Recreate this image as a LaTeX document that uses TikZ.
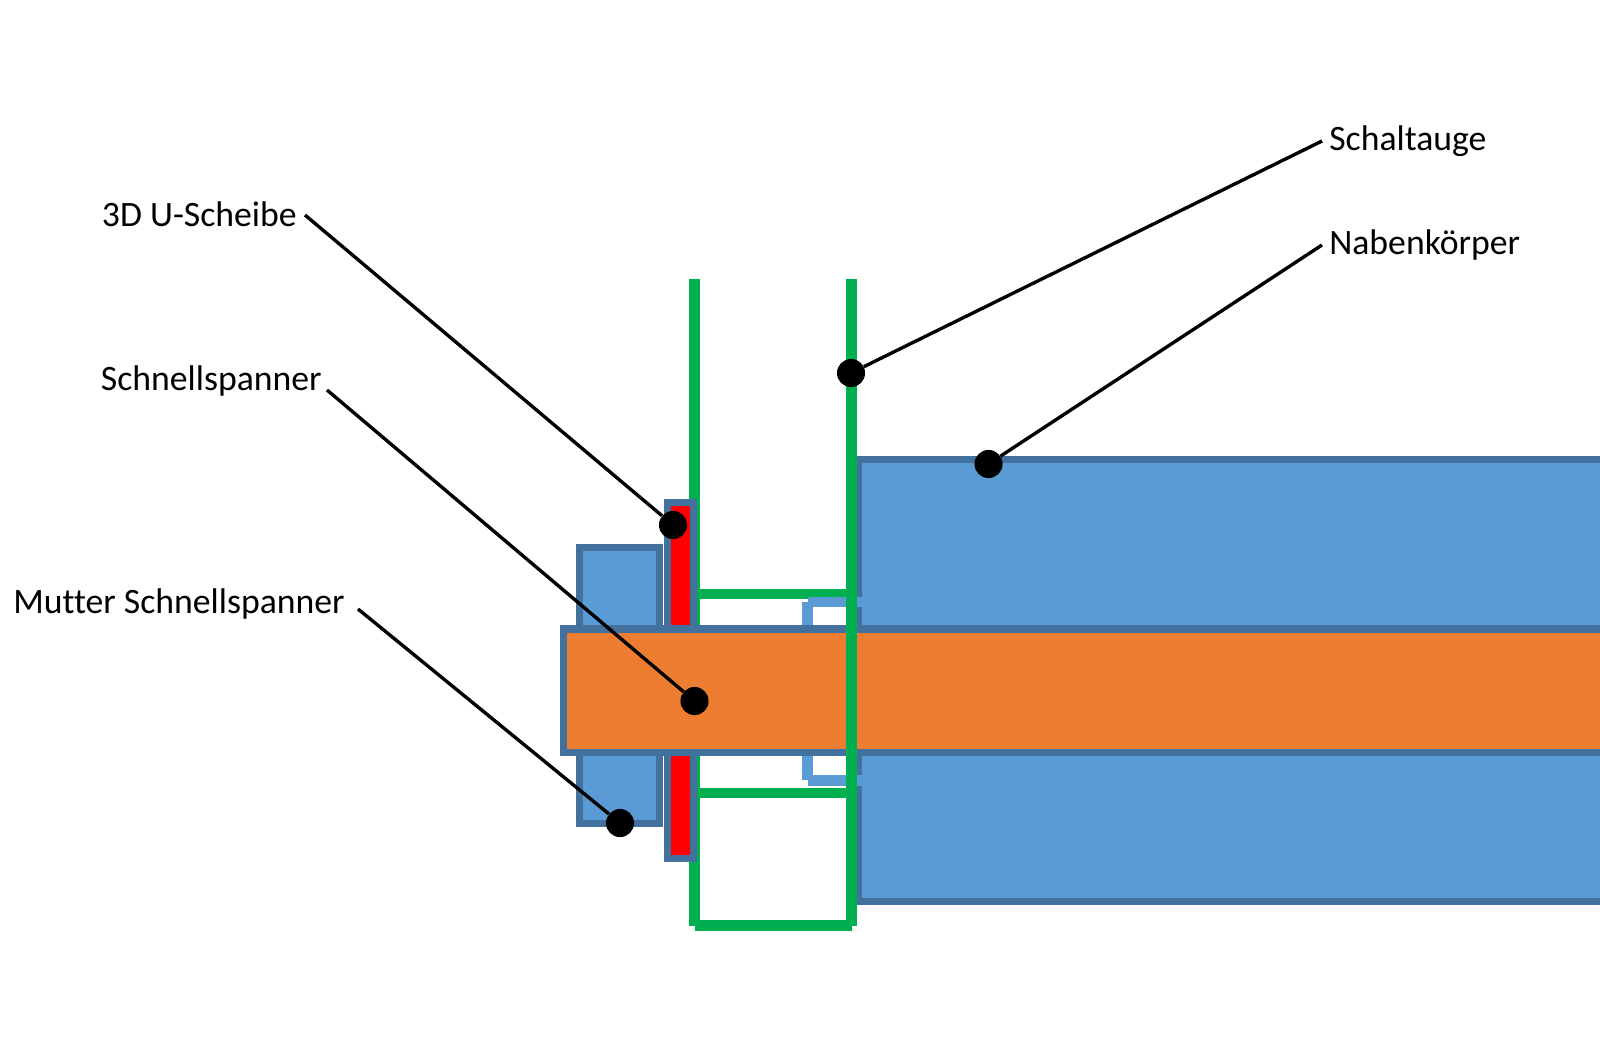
\documentclass[tikz,border=0pt]{standalone}
\usepackage{fontspec}
\setmainfont{Carlito}[Ligatures=NoCommon]
\definecolor{partblue}{HTML}{5B9BD5}
\definecolor{partedge}{HTML}{41719C}
\definecolor{rodorange}{HTML}{ED7D31}
\definecolor{framegreen}{HTML}{00B050}
\definecolor{washerred}{HTML}{FF0000}
\tikzset{
 part/.style={draw=partedge,line width=5pt},
 frameline/.style={framegreen,line width=7.5pt},
 spacerline/.style={partblue,line width=7.5pt},
 partdot/.style={circle,fill=black,minimum size=20pt,inner sep=0pt},
 partlabel/.style={font=\fontsize{25.4pt}{30pt}\selectfont,inner sep=0pt},
}
\begin{document}
\begin{tikzpicture}[x=.25mm,y=-.25mm]
 \useasboundingbox(0,0)rectangle(1600,1058);
 % hub body
 \fill[partblue](858,459.5)rectangle(1600,901.5);
 \draw[part](1600,459.5)--(858,459.5)--(858,901.5)--(1600,901.5);
 % frame
 \draw[frameline](694.5,279)--(694.5,926);
 \draw[frameline](851.5,279)--(851.5,926);
 \draw[frameline](694.5,594)--(851.5,594);
 \draw[frameline](694.5,793)--(851.5,793);
 \draw[frameline](694.5,925.7)--(851.5,925.7);
 % spacer
 \draw[spacerline](807.5,602)--(807.5,629);
 \draw[spacerline](807.5,752)--(807.5,780);
 \draw[spacerline](808,602)--(862,602);
 \draw[spacerline](808,780.5)--(862,780.5);
 \draw[frameline](851.5,590)--(851.5,800);
 % nut, washer
 \draw[part,fill=partblue](579.5,547.5)rectangle(659.5,823);
 \draw[part,fill=washerred](667.5,502.5)rectangle(693.5,858.5);
 % axle
 \fill[rodorange](563.5,629)rectangle(1600,752.5);
 \draw[part](1600,629)--(563.5,629)--(563.5,752.5)--(1600,752.5);
 \draw[frameline](851.5,625)--(851.5,756);
 % labels
 \foreach \id/\lx/\ly/\side/\dx/\dy/\ex/\ey/\txt in {
  schalt/1329/150.3/base west/851/373/1322/141/Schaltauge,
  nabe/1329/254.3/base west/988.5/464/1322/245/Nabenkörper,
  scheibe/297/226/base east/673/525/305/215/3D U-Scheibe,
  spanner/322/390/base east/694.5/701/327/390/Schnellspanner,
  mutter/345/613.7/base east/620/823/358/609/Mutter Schnellspanner}{
  \node[partlabel,anchor=\side](\id)at(\lx,\ly){\txt};
  \node[partdot](\id dot)at(\dx,\dy){};
  \coordinate(\id end)at(\ex,\ey);
  \draw[line width=2.4pt](\id end)--(\id dot);}
\end{tikzpicture}
\end{document}
